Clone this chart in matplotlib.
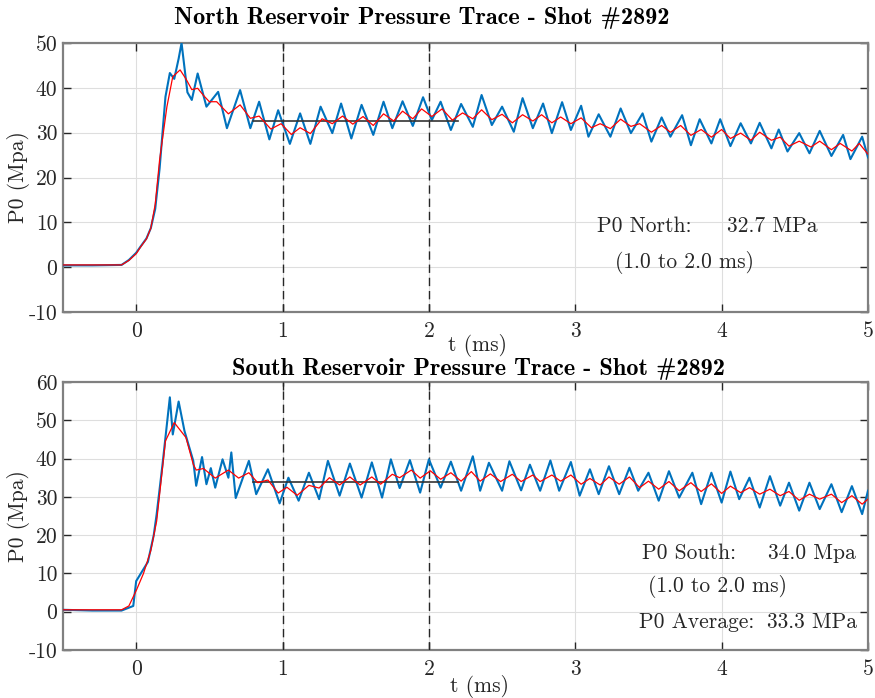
import matplotlib
matplotlib.use("Agg")
import matplotlib.pyplot as plt
import numpy as np

plt.rcParams['font.family'] = 'cmr10'
plt.rcParams['axes.unicode_minus'] = False

# North reservoir: raw trace (turning points) and filtered trace
north_t = [-0.5, -0.3, -0.1, -0.05, 0.0, 0.03, 0.07, 0.10, 0.13, 0.16, 0.20, 0.23, 0.26,
           0.29, 0.31, 0.35, 0.38, 0.42, 0.48, 0.56, 0.62, 0.71, 0.78, 0.84, 0.91, 0.97,
           1.05, 1.12, 1.19, 1.26, 1.34, 1.40, 1.47, 1.54, 1.62, 1.69, 1.75, 1.82, 1.89,
           1.96, 2.02, 2.08, 2.15, 2.22, 2.30, 2.36, 2.43, 2.50, 2.58, 2.64, 2.71, 2.78,
           2.84, 2.91, 2.97, 3.04, 3.09, 3.16, 3.24, 3.31, 3.38, 3.46, 3.52, 3.59, 3.65,
           3.73, 3.79, 3.85, 3.93, 3.99, 4.06, 4.13, 4.20, 4.26, 4.34, 4.39, 4.45, 4.53,
           4.60, 4.67, 4.75, 4.83, 4.88, 4.96, 5.0]
north_p = [0.4, 0.4, 0.5, 1.6, 3.2, 4.6, 6.4, 8.7, 13.0, 22.0, 38.0, 43.3, 42.0,
           46.5, 50.0, 39.0, 37.3, 43.2, 35.8, 39.1, 31.0, 39.5, 31.0, 36.9, 28.5, 35.0,
           27.5, 34.3, 27.5, 35.8, 29.9, 36.5, 28.7, 36.2, 29.5, 36.9, 31.0, 37.0, 31.5,
           37.9, 32.8, 36.9, 30.6, 36.4, 31.3, 38.4, 31.7, 35.8, 30.2, 37.7, 31.0, 36.5,
           29.9, 36.8, 30.6, 36.0, 29.1, 34.1, 29.1, 35.4, 29.9, 34.3, 28.0, 33.4, 29.1,
           33.9, 27.2, 33.0, 27.6, 33.0, 27.0, 32.1, 27.6, 32.2, 26.5, 30.7, 25.8, 29.9,
           25.4, 30.4, 24.8, 29.5, 24.1, 29.1, 24.5]

north_ft = [-0.5, -0.1, -0.05, 0.0, 0.03, 0.07, 0.10, 0.13, 0.16, 0.21, 0.25, 0.30, 0.34,
            0.38, 0.42, 0.46, 0.50, 0.55, 0.63, 0.71, 0.78, 0.84, 0.92, 0.99, 1.06, 1.12,
            1.19, 1.27, 1.34, 1.41, 1.48, 1.55, 1.62, 1.69, 1.76, 1.82, 1.89, 1.95, 2.02,
            2.09, 2.16, 2.23, 2.30, 2.36, 2.43, 2.50, 2.57, 2.64, 2.71, 2.77, 2.84, 2.90,
            2.97, 3.04, 3.11, 3.17, 3.24, 3.31, 3.38, 3.44, 3.52, 3.59, 3.65, 3.72, 3.79,
            3.86, 3.93, 4.00, 4.06, 4.13, 4.20, 4.26, 4.34, 4.40, 4.46, 4.53, 4.61, 4.67,
            4.75, 4.81, 4.89, 4.94, 5.0]
north_fp = [0.5, 0.5, 1.5, 3.0, 4.5, 6.3, 8.7, 14.0, 23.9, 35.8, 42.5, 44.0, 42.0,
            39.6, 39.9, 38.3, 36.9, 36.9, 34.2, 36.2, 33.2, 33.7, 30.8, 32.0, 29.6, 31.1,
            29.8, 33.1, 32.0, 33.7, 31.9, 33.6, 31.6, 34.2, 32.6, 34.8, 33.1, 35.3, 33.6,
            35.3, 32.8, 34.4, 33.1, 35.1, 32.9, 34.1, 32.2, 34.0, 32.6, 34.0, 32.2, 33.5,
            32.0, 33.3, 31.1, 32.0, 30.9, 33.0, 31.4, 32.0, 30.1, 31.6, 30.1, 31.6, 29.4,
            30.7, 29.0, 30.7, 28.7, 29.9, 28.3, 30.1, 28.3, 29.0, 27.0, 28.1, 26.8, 28.1,
            26.2, 27.6, 25.9, 27.6, 25.2]

# South reservoir
south_t = [-0.5, -0.3, -0.1, -0.02, 0.0, 0.04, 0.08, 0.12, 0.14, 0.18, 0.23, 0.25, 0.29,
           0.33, 0.39, 0.41, 0.45, 0.48, 0.51, 0.54, 0.59, 0.63, 0.65, 0.68, 0.77, 0.82,
           0.90, 0.98, 1.04, 1.11, 1.18, 1.25, 1.31, 1.39, 1.46, 1.54, 1.61, 1.68, 1.74,
           1.80, 1.87, 1.94, 2.00, 2.08, 2.15, 2.22, 2.30, 2.35, 2.41, 2.50, 2.55, 2.63,
           2.69, 2.76, 2.83, 2.89, 2.97, 3.03, 3.10, 3.16, 3.23, 3.30, 3.37, 3.43, 3.50,
           3.57, 3.64, 3.71, 3.80, 3.86, 3.93, 4.00, 4.06, 4.12, 4.19, 4.26, 4.33, 4.40,
           4.46, 4.53, 4.60, 4.67, 4.75, 4.82, 4.89, 4.96, 5.0]
south_p = [0.5, 0.3, 0.3, 1.5, 8.0, 10.5, 13.0, 20.0, 25.5, 38.5, 56.0, 46.3, 54.9,
           47.2, 39.4, 32.9, 40.4, 33.3, 37.5, 32.4, 39.8, 35.0, 41.6, 29.7, 39.4, 30.7,
           37.2, 28.3, 35.0, 29.0, 36.3, 29.4, 39.4, 30.3, 38.7, 29.8, 39.0, 29.8, 39.8,
           32.3, 39.6, 31.1, 39.8, 32.4, 39.2, 31.6, 40.6, 31.6, 38.9, 31.6, 39.3, 31.7,
           38.4, 31.6, 39.5, 31.6, 39.1, 30.3, 37.2, 30.7, 38.0, 30.7, 37.6, 31.6, 36.3,
           29.0, 36.7, 29.8, 36.3, 28.1, 36.3, 28.5, 36.6, 29.4, 35.0, 27.2, 35.4, 27.7,
           33.7, 26.4, 33.7, 26.8, 33.3, 26.0, 32.8, 25.5, 31.6]

south_ft = [-0.5, -0.1, -0.05, 0.0, 0.05, 0.10, 0.14, 0.20, 0.26, 0.34, 0.39, 0.41, 0.46,
            0.54, 0.63, 0.70, 0.77, 0.83, 0.90, 0.97, 1.03, 1.10, 1.18, 1.25, 1.32, 1.39,
            1.46, 1.53, 1.61, 1.67, 1.75, 1.80, 1.88, 1.94, 2.01, 2.08, 2.15, 2.22, 2.29,
            2.35, 2.42, 2.49, 2.57, 2.63, 2.71, 2.76, 2.84, 2.90, 2.97, 3.04, 3.10, 3.17,
            3.23, 3.30, 3.37, 3.44, 3.50, 3.57, 3.64, 3.71, 3.79, 3.86, 3.93, 4.00, 4.06,
            4.13, 4.19, 4.26, 4.33, 4.40, 4.46, 4.53, 4.60, 4.67, 4.75, 4.82, 4.89, 4.96,
            5.0]
south_fp = [0.5, 0.5, 1.5, 5.5, 10.0, 16.0, 23.7, 44.6, 49.4, 45.5, 38.5, 37.0, 37.4,
            34.9, 37.0, 34.9, 36.3, 33.7, 34.4, 31.0, 32.5, 30.4, 33.0, 32.3, 35.0, 33.1,
            35.2, 33.1, 35.2, 33.3, 35.9, 35.0, 37.0, 34.9, 36.8, 34.6, 36.3, 34.1, 36.6,
            34.1, 36.0, 34.0, 35.9, 34.0, 35.7, 34.0, 35.7, 34.1, 35.7, 33.3, 34.8, 33.1,
            35.2, 33.3, 35.2, 32.4, 34.1, 32.0, 34.0, 31.6, 33.7, 31.4, 33.4, 30.9, 32.8,
            31.1, 32.4, 30.7, 32.0, 30.3, 31.4, 29.1, 30.7, 29.4, 30.7, 28.5, 30.3, 28.1,
            29.4]

# averages over the 1.0 to 2.0 ms window
p0_north = 32.7
p0_south = 34.0
p0_avg = 33.3
avg_span = [0.8, 2.2]

x_ticks = [0, 1, 2, 3, 4, 5]
north_yticks = [-10, 0, 10, 20, 30, 40, 50]
south_yticks = [-10, 0, 10, 20, 30, 40, 50, 60]

W, H = 875, 698
fig = plt.figure(figsize=(W / 100, H / 100), dpi=100)
ax1 = fig.add_axes([63 / W, 1 - 312 / H, 805 / W, 269 / H])
ax2 = fig.add_axes([63 / W, 1 - 650 / H, 805 / W, 268 / H])

txt = '#262626'
fs = 15.5


def style(ax, yticks):
    ax.set_xlim(-0.5, 5)
    ax.set_ylim(yticks[0], yticks[-1])
    ax.set_xticks(x_ticks)
    ax.set_yticks(yticks)
    ax.set_yticklabels([str(v) for v in yticks])
    ax.grid(True, color='#dedede', linewidth=0.8)
    ax.set_axisbelow(True)
    ax.tick_params(direction='in', top=True, right=True, length=6, width=1,
                   color=txt, labelcolor=txt, labelsize=fs)
    ax.tick_params(axis='x', pad=7)
    ax.tick_params(axis='y', pad=4)
    for s in ax.spines.values():
        s.set_color('#808080')
        s.set_linewidth(1.6)
    for t in [1, 2]:
        ax.axvline(t, color=txt, linewidth=1, linestyle=(0, (6, 3.5)), zorder=3)


for ax, t, p, ft, fp, mean, yt in [
        (ax1, north_t, north_p, north_ft, north_fp, p0_north, north_yticks),
        (ax2, south_t, south_p, south_ft, south_fp, p0_south, south_yticks)]:
    style(ax, yt)
    ax.plot(t, p, color='#0072BD', linewidth=1.5, zorder=4)
    ax.plot(avg_span, [mean, mean], color='#333333', linewidth=1.2, zorder=5)
    ax.plot(ft, fp, color='red', linewidth=0.9, zorder=6)
    ax.set_ylabel('P0 (Mpa)', fontsize=fs, color=txt)
    ax.yaxis.set_label_coords(-0.041, 0.5)
    ax.set_xlabel('t (ms)', fontsize=fs, color=txt)

ax1.xaxis.set_label_coords(0.515, -0.083)
ax2.xaxis.set_label_coords(0.518, -0.095)


def ftext(x, y, s, **kw):
    fig.text(x / W, 1 - y / H, s, fontsize=fs, color=txt, va='center', **kw)


fig.text(422 / W, 1 - 18 / H, 'North Reservoir Pressure Trace - Shot #2892',
         fontsize=17.5, family='cmb10', ha='center', va='center', color='black')
fig.text(478 / W, 1 - 369 / H, 'South Reservoir Pressure Trace - Shot #2892',
         fontsize=17.5, family='cmb10', ha='center', va='center', color='black')

ftext(597, 226, 'P0 North:')
ftext(727, 226, '%.1f MPa' % p0_north)
ftext(615, 262, '(1.0 to 2.0 ms)')
ftext(642, 553, 'P0 South:')
ftext(768, 553, '%.1f Mpa' % p0_south)
ftext(648, 587, '(1.0 to 2.0 ms)')
ftext(639, 622, 'P0 Average:')
ftext(767, 622, '%.1f MPa' % p0_avg)

fig.savefig('out.png', dpi=100)
